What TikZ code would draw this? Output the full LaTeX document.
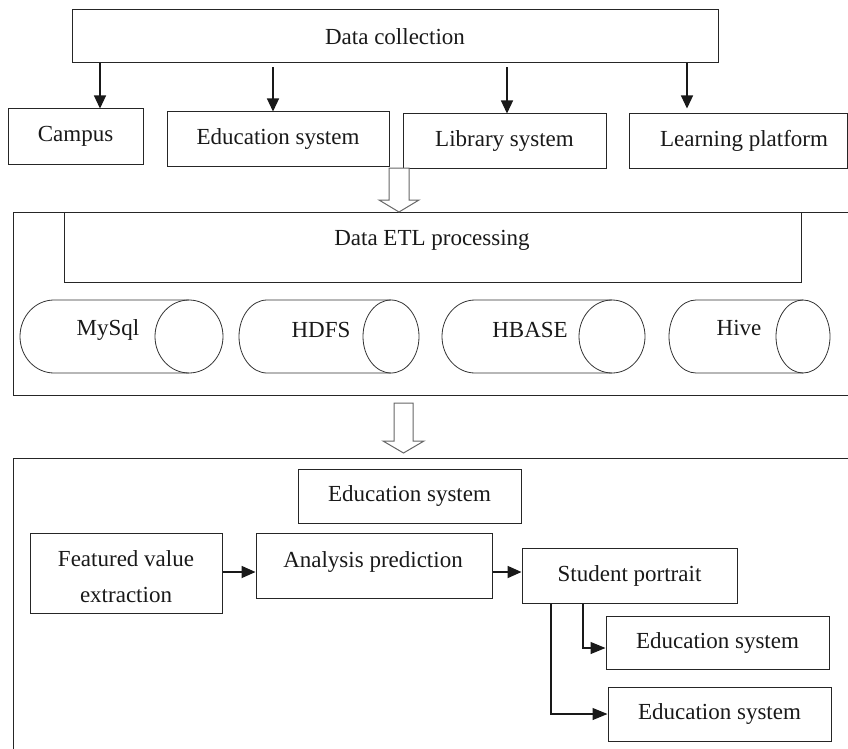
\documentclass[tikz,border=0pt]{standalone}
\usepackage{fontspec}
\setmainfont{Liberation Serif}
\usetikzlibrary{arrows.meta}
\begin{document}
\begin{tikzpicture}[x=1pt,y=-1pt,
  font=\fontsize{23}{36}\selectfont,
  box/.style={draw=black!85, line width=1pt, inner sep=0pt, text=black!90},
  toparr/.style={draw=black!90, line width=1.2pt, -{Triangle[length=13pt,width=12pt]}},
  thickarr/.style={draw=black!90, line width=1.8pt, -{Triangle[length=14pt,width=12pt]}},
  elbowarr/.style={draw=black!90, line width=1.2pt, -{Triangle[length=15pt,width=12pt]}},
  hollow/.style={draw=black!60, line width=1pt, fill=white},
  cyl/.style={draw=black!80, line width=0.8pt},
  lbl/.style={inner sep=0pt, text=black!90}]
\useasboundingbox (0,0) rectangle (848,749);
\clip (0,0) rectangle (848,749);

% ---- collection layer ----
\node[box, minimum width=646pt, minimum height=53pt] (dc) at (395,36.5) {Data collection};
\node[box, minimum width=135pt, minimum height=55pt] (campus) at (75.5,136.5) {Campus};
\node[box, minimum width=222pt, minimum height=54pt] (edu) at (278,139) {Education system};
\node[box, minimum width=203pt, minimum height=54pt] (lib) at (504.5,141) {Library system};
\node[box, minimum width=218pt, minimum height=54pt] (learn) at (738,141) {\hspace*{12pt}Learning platform};

\coordinate (a1) at (100,0);
\coordinate (a2) at (273,0);
\coordinate (a3) at (507,0);
\coordinate (a4) at (687,0);
\draw[toparr] (dc.south -| a1) -- (campus.north -| a1);
\draw[toparr, shorten <=4pt] (dc.south -| a2) -- (edu.north -| a2);
\draw[toparr, shorten <=4pt] (dc.south -| a3) -- (lib.north -| a3);
\draw[toparr, shorten >=5pt] (dc.south -| a4) -- (learn.north -| a4);

% ---- ETL layer ----
\node[box, minimum width=857pt, minimum height=183pt] (etl) at (441.5,303.5) {};
\node[box, minimum width=737pt, minimum height=70pt] (etlin) at (432.5,247) {};
\node[lbl] (etltxt) at (432,240) {Data ETL processing};

% hollow arrow into the ETL layer
\draw[hollow] (389,168) -- (409,168) -- (409,200) -- (419,200) -- (399,212)
  -- (379,200) -- (389,200) -- cycle;

% storage cylinders: left half end, body, full right end
\draw[cyl] (189,300) -- (54,300) arc[start angle=90, end angle=270, x radius=34pt, y radius=36.5pt] -- (189,373);
\draw[cyl] (189,336.5) ellipse[x radius=34pt, y radius=36.5pt];
\node[lbl] (mysql) at (108,330) {MySql};

\draw[cyl] (391,300) -- (267,300) arc[start angle=90, end angle=270, x radius=28pt, y radius=36.5pt] -- (391,373);
\draw[cyl] (391,336.5) ellipse[x radius=28pt, y radius=36.5pt];
\node[lbl] (hdfs) at (321,330) {HDFS};

\draw[cyl] (612,300) -- (475,300) arc[start angle=90, end angle=270, x radius=33pt, y radius=36.5pt] -- (612,373);
\draw[cyl] (612,336.5) ellipse[x radius=33pt, y radius=36.5pt];
\node[lbl] (hbase) at (530,330) {HBASE};

\draw[cyl] (803,300) -- (696,300) arc[start angle=90, end angle=270, x radius=27pt, y radius=36.5pt] -- (803,373);
\draw[cyl] (803,336.5) ellipse[x radius=27pt, y radius=36.5pt];
\node[lbl] (hive) at (739,328) {Hive};

% hollow arrow into the analysis layer
\draw[hollow] (394,403) -- (413,403) -- (413,441) -- (424,441) -- (403.5,453)
  -- (383,441) -- (394,441) -- cycle;

% ---- analysis layer ----
\node[box, minimum width=857pt, minimum height=342pt] (ana) at (441.5,629) {};
\node[box, minimum width=223pt, minimum height=54pt] (edtop) at (409.5,496) {Education system};
\node[box, minimum width=192pt, minimum height=80pt] (fv) at (126,573) {};
\node[lbl, align=center] (fvtxt) at (126,577) {Featured value\\extraction};
\node[box, minimum width=236pt, minimum height=65pt] (an) at (374,565.5) {};
\node[lbl] (antxt) at (373,562) {Analysis prediction};
\node[box, minimum width=215pt, minimum height=55pt] (sp) at (629.5,575.5) {Student portrait};
\node[box, minimum width=223pt, minimum height=53pt] (ed2) at (717.5,642.5) {Education system};
\node[box, minimum width=223pt, minimum height=54pt] (ed3) at (719.5,714) {Education system};

\coordinate (r1) at (0,572);
\coordinate (r2) at (0,648);
\coordinate (c1) at (583,0);
\coordinate (c2) at (551,0);
\draw[thickarr] (fv.east |- r1) -- (an.west |- r1);
\draw[thickarr] (an.east |- r1) -- (sp.west |- r1);
\draw[elbowarr] (sp.south -| c1) |- (ed2.west |- r2);
\draw[elbowarr] (sp.south -| c2) |- (ed3.west);
\end{tikzpicture}
\end{document}
